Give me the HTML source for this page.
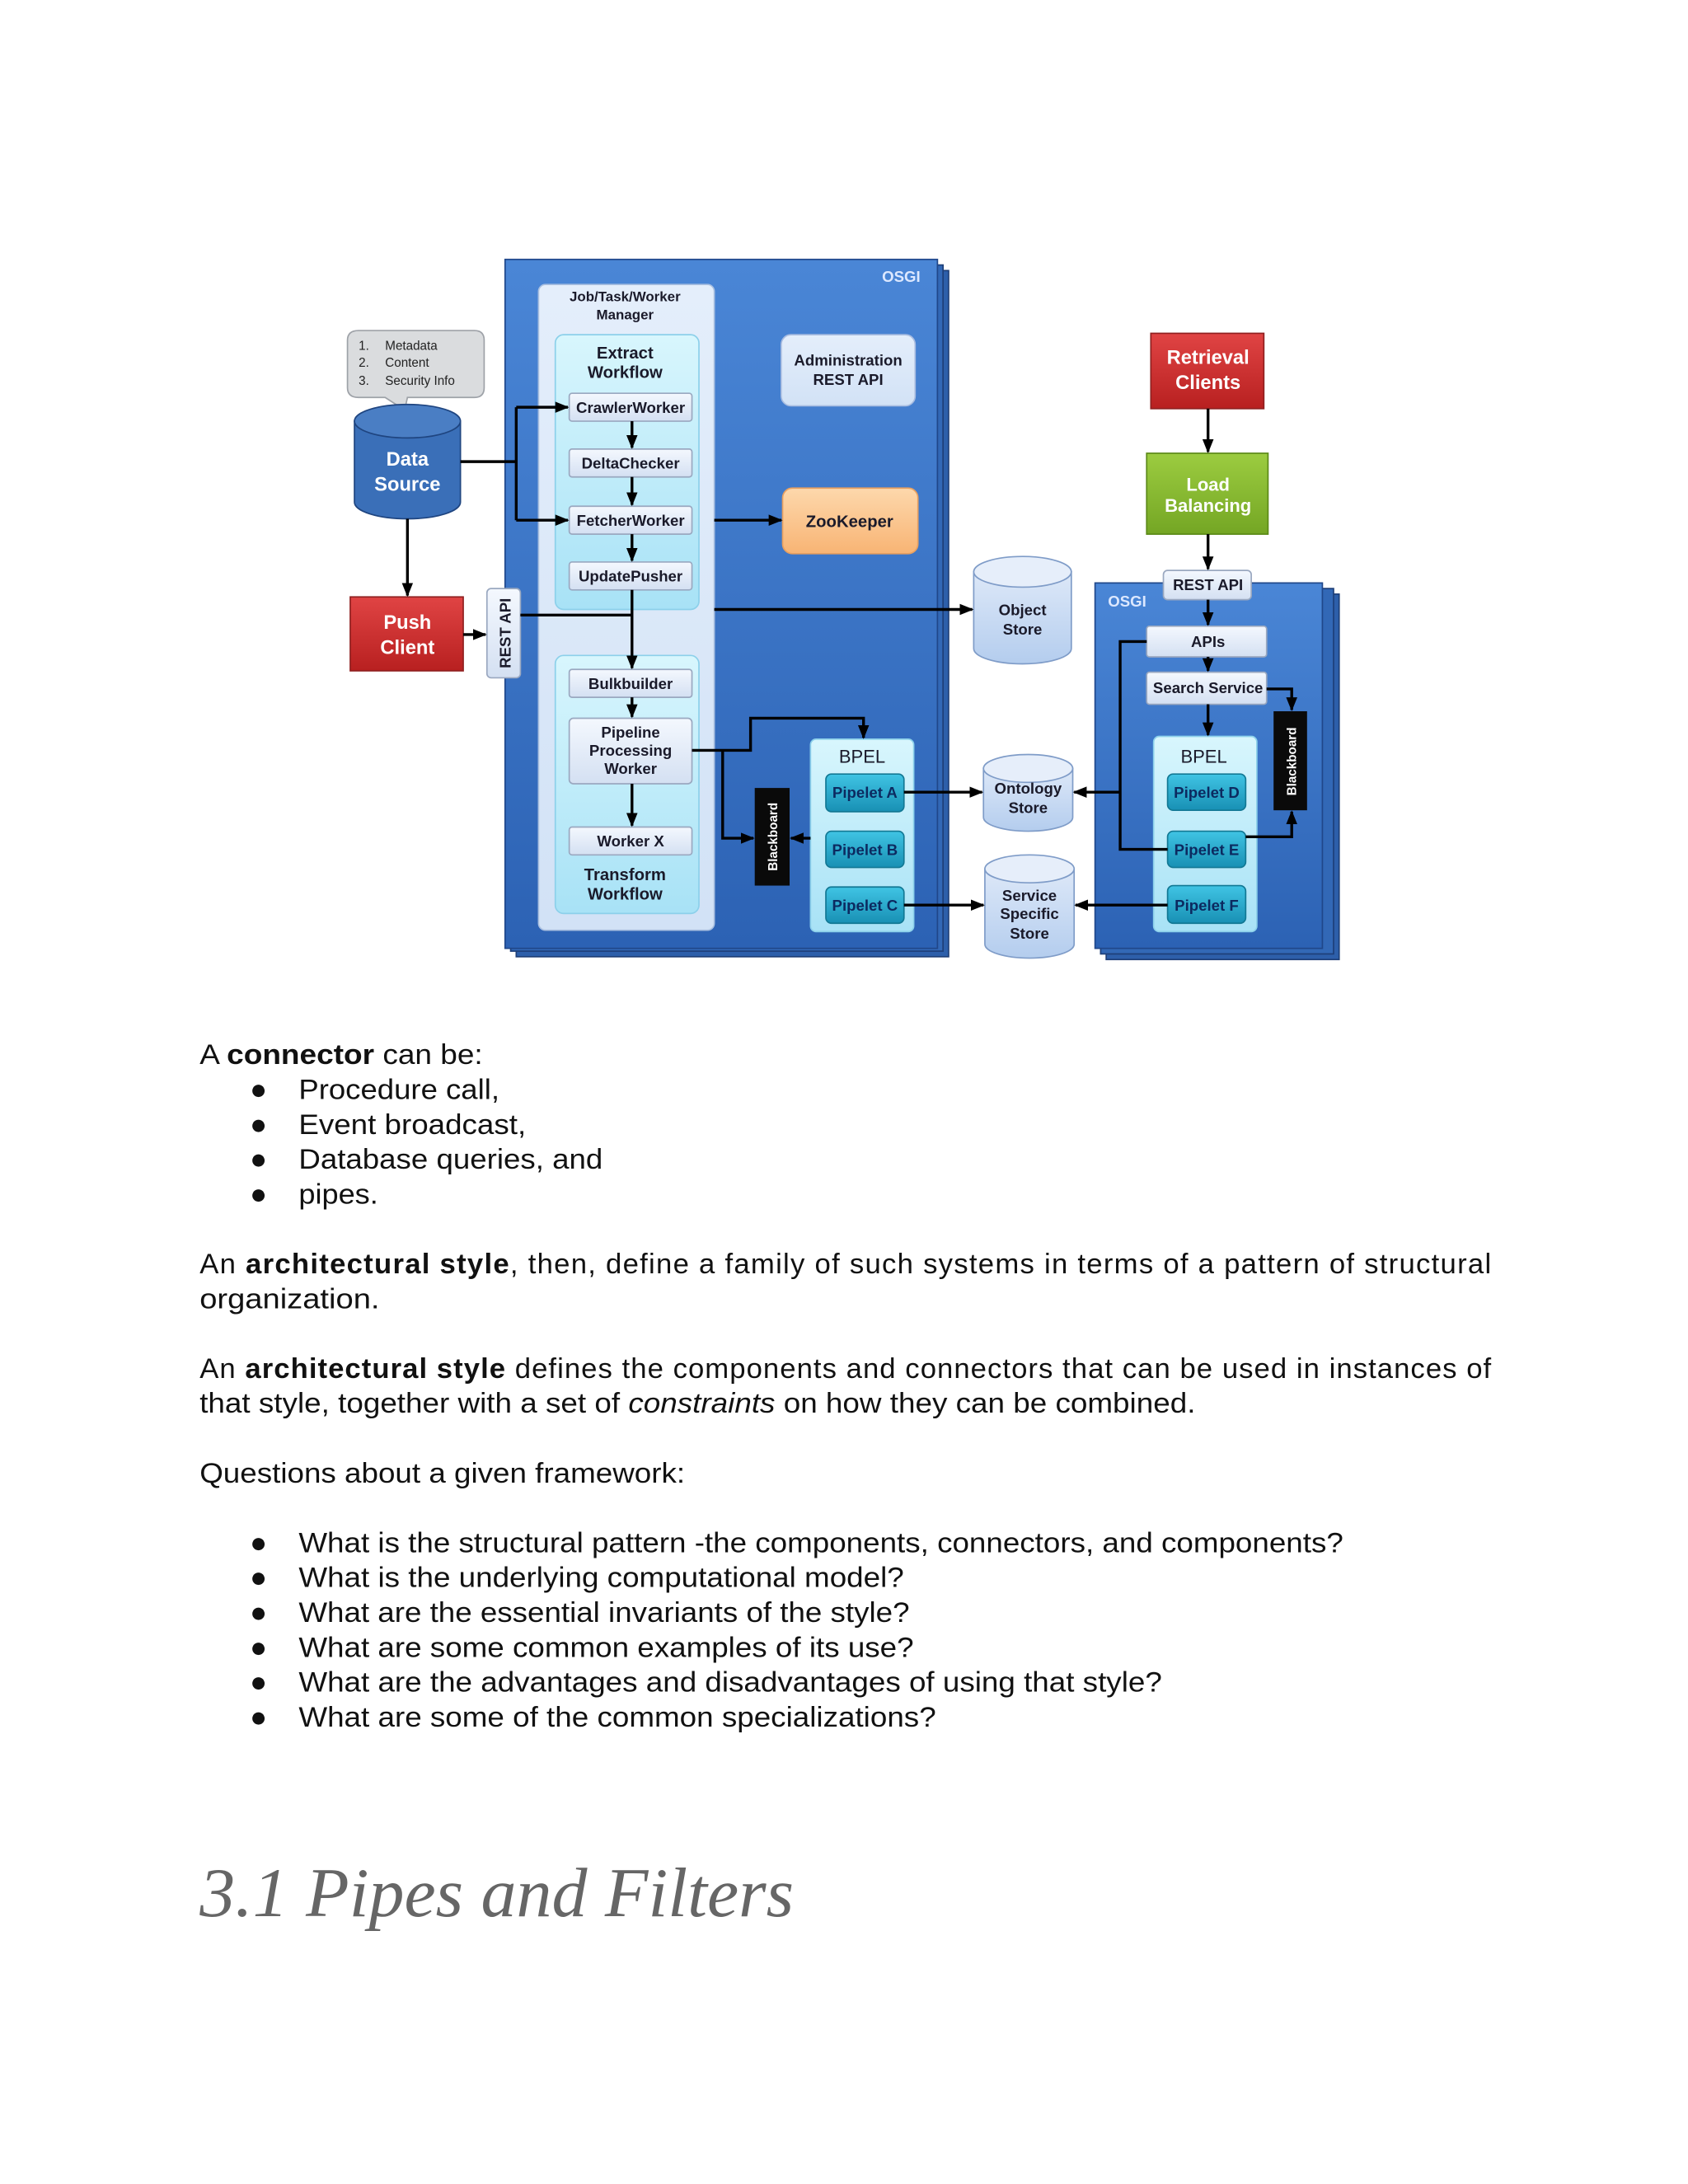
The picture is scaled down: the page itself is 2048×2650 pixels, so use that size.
<!DOCTYPE html>
<html><head><meta charset="utf-8"><style>
html,body{margin:0;padding:0;background:#fff}
svg{display:block}
.d{font-family:"Liberation Sans",sans-serif;font-weight:bold;font-size:11px;fill:#1a1a2a;text-anchor:middle}
.w{fill:#fff}
.t{font-family:"Liberation Sans",sans-serif;font-size:20.5px;fill:#111}
</style></head><body>
<svg width="2048" height="2650" viewBox="0 0 1210 1566" xmlns="http://www.w3.org/2000/svg">
<defs>
<linearGradient id="osgi" x1="0" y1="0" x2="0" y2="1"><stop offset="0" stop-color="#4a86d6"/><stop offset="1" stop-color="#2c62b4"/></linearGradient>
<linearGradient id="pan" x1="0" y1="0" x2="0" y2="1"><stop offset="0" stop-color="#e4eefb"/><stop offset="1" stop-color="#d2e2f6"/></linearGradient>
<linearGradient id="cy" x1="0" y1="0" x2="0" y2="1"><stop offset="0" stop-color="#d8f6fd"/><stop offset="1" stop-color="#a8e2f6"/></linearGradient>
<linearGradient id="wk" x1="0" y1="0" x2="0" y2="1"><stop offset="0" stop-color="#f4f8fe"/><stop offset="1" stop-color="#d4e0f2"/></linearGradient>
<linearGradient id="pl" x1="0" y1="0" x2="0" y2="1"><stop offset="0" stop-color="#40c4e4"/><stop offset="1" stop-color="#1890b4"/></linearGradient>
<linearGradient id="red" x1="0" y1="0" x2="0" y2="1"><stop offset="0" stop-color="#e04444"/><stop offset="1" stop-color="#b82020"/></linearGradient>
<linearGradient id="grn" x1="0" y1="0" x2="0" y2="1"><stop offset="0" stop-color="#9ccc40"/><stop offset="1" stop-color="#74a624"/></linearGradient>
<linearGradient id="org" x1="0" y1="0" x2="0" y2="1"><stop offset="0" stop-color="#fdd8ac"/><stop offset="1" stop-color="#f8b474"/></linearGradient>
<linearGradient id="db" x1="0" y1="0" x2="0" y2="1"><stop offset="0" stop-color="#dde8f8"/><stop offset="1" stop-color="#b4cdee"/></linearGradient>
<marker id="a" viewBox="0 0 10 10" refX="9" refY="5" markerWidth="5" markerHeight="5" orient="auto"><path d="M0,1 L10,5 L0,9z" fill="#000"/></marker>
</defs>

<!-- main OSGI stack -->
<rect x="370" y="194" width="310" height="492" fill="#2d5faa" stroke="#1e3f78"/>
<rect x="366" y="190" width="310" height="492" fill="#3268b6" stroke="#1e3f78"/>
<rect x="362" y="186" width="310" height="494" fill="url(#osgi)" stroke="#20478a"/>
<text x="646" y="202" class="d w" style="fill:#dce8ff">OSGI</text>

<rect x="386" y="204" width="126" height="463" rx="5" fill="url(#pan)" stroke="#aac0e0"/>
<text x="448" y="216" class="d" style="font-size:10px">Job/Task/Worker</text>
<text x="448" y="229" class="d" style="font-size:10px">Manager</text>
<rect x="398" y="240" width="103" height="197" rx="6" fill="url(#cy)" stroke="#8cd0ea"/>
<text x="448" y="257" class="d" style="font-size:12px">Extract</text>
<text x="448" y="271" class="d" style="font-size:12px">Workflow</text>
<rect x="398" y="470" width="103" height="185" rx="6" fill="url(#cy)" stroke="#8cd0ea"/>
<text x="448" y="631" class="d" style="font-size:12px">Transform</text>
<text x="448" y="645" class="d" style="font-size:12px">Workflow</text>

<g stroke="#9aa8c0" fill="url(#wk)">
<rect x="408" y="282" width="88" height="20" rx="2"/>
<rect x="408" y="322" width="88" height="20" rx="2"/>
<rect x="408" y="363" width="88" height="20" rx="2"/>
<rect x="408" y="403" width="88" height="20" rx="2"/>
<rect x="408" y="480" width="88" height="20" rx="2"/>
<rect x="408" y="515" width="88" height="47" rx="3"/>
<rect x="408" y="593" width="88" height="20" rx="2"/>
</g>
<text x="452" y="296" class="d">CrawlerWorker</text>
<text x="452" y="336" class="d">DeltaChecker</text>
<text x="452" y="377" class="d">FetcherWorker</text>
<text x="452" y="417" class="d">UpdatePusher</text>
<text x="452" y="494" class="d">Bulkbuilder</text>
<text x="452" y="529" class="d">Pipeline</text>
<text x="452" y="542" class="d">Processing</text>
<text x="452" y="555" class="d">Worker</text>
<text x="452" y="607" class="d">Worker X</text>

<rect x="560" y="240" width="96" height="51" rx="7" fill="url(#pan)" stroke="#a8bce0"/>
<text x="608" y="262" class="d">Administration</text>
<text x="608" y="276" class="d">REST API</text>
<rect x="561" y="350" width="97" height="47" rx="7" fill="url(#org)" stroke="#e8a060"/>
<text x="609" y="378" class="d" style="font-size:12px">ZooKeeper</text>

<rect x="581" y="530" width="74" height="138" rx="4" fill="url(#cy)" stroke="#8cd0ea"/>
<text x="618" y="547" class="d" style="font-size:13px;font-weight:normal">BPEL</text>
<g fill="url(#pl)" stroke="#127894">
<rect x="592" y="555" width="56" height="27" rx="4"/>
<rect x="592" y="596" width="56" height="26" rx="4"/>
<rect x="592" y="636" width="56" height="26" rx="4"/>
</g>
<text x="620" y="572" class="d" style="fill:#0c2a60">Pipelet A</text>
<text x="620" y="613" class="d" style="fill:#0c2a60">Pipelet B</text>
<text x="620" y="653" class="d" style="fill:#0c2a60">Pipelet C</text>
<rect x="541" y="565" width="25" height="70" fill="#0a0a0a"/>
<text transform="translate(557,600) rotate(-90)" class="d w" style="font-size:9px">Blackboard</text>

<!-- callout & data source -->
<path d="M257,237 H340 Q347,237 347,244 V278 Q347,285 340,285 H292 L290,294 L276,285 H257 Q249,285 249,278 V244 Q249,237 257,237z" fill="#dadcde" stroke="#9ea2a8"/>
<g style="font-family:'Liberation Sans',sans-serif;font-size:9px;fill:#222">
<text x="257" y="251">1.</text><text x="276" y="251">Metadata</text>
<text x="257" y="263">2.</text><text x="276" y="263">Content</text>
<text x="257" y="276">3.</text><text x="276" y="276">Security Info</text>
</g>
<path d="M254,302 V360 A38,12 0 0 0 330,360 V302z" fill="#3a6fb8" stroke="#1f4580"/>
<ellipse cx="292" cy="302" rx="38" ry="12" fill="#4a7ec4" stroke="#1f4580"/>
<text x="292" y="334" class="d w" style="font-size:14px">Data</text>
<text x="292" y="352" class="d w" style="font-size:14px">Source</text>

<rect x="251" y="428" width="81" height="53" fill="url(#red)" stroke="#902020"/>
<text x="292" y="451" class="d w" style="font-size:14px">Push</text>
<text x="292" y="469" class="d w" style="font-size:14px">Client</text>
<rect x="349" y="422" width="24" height="64" rx="3" fill="url(#wk)" stroke="#9aa8c0"/>
<text transform="translate(366,454) rotate(-90)" class="d">REST API</text>

<!-- stores -->
<g fill="url(#db)" stroke="#7f9cc8">
<path d="M698,410 V465 A35,11 0 0 0 768,465 V410z"/><ellipse cx="733" cy="410" rx="35" ry="11" fill="#e6eefa"/>
<path d="M705,551 V586 A32,10 0 0 0 769,586 V551z"/><ellipse cx="737" cy="551" rx="32" ry="10" fill="#e6eefa"/>
<path d="M706,623 V677 A32,10 0 0 0 770,677 V623z"/><ellipse cx="738" cy="623" rx="32" ry="10" fill="#e6eefa"/>
</g>
<text x="733" y="441" class="d">Object</text><text x="733" y="455" class="d">Store</text>
<text x="737" y="569" class="d">Ontology</text><text x="737" y="583" class="d">Store</text>
<text x="738" y="646" class="d">Service</text><text x="738" y="659" class="d">Specific</text><text x="738" y="673" class="d">Store</text>

<!-- right side -->
<rect x="825" y="239" width="81" height="54" fill="url(#red)" stroke="#902020"/>
<text x="866" y="261" class="d w" style="font-size:14px">Retrieval</text>
<text x="866" y="279" class="d w" style="font-size:14px">Clients</text>
<rect x="822" y="325" width="87" height="58" fill="url(#grn)" stroke="#5c8a18"/>
<text x="866" y="352" class="d w" style="font-size:13px">Load</text>
<text x="866" y="367" class="d w" style="font-size:13px">Balancing</text>

<rect x="793" y="426" width="167" height="262" fill="#2d5faa" stroke="#1e3f78"/>
<rect x="789" y="422" width="167" height="262" fill="#3268b6" stroke="#1e3f78"/>
<rect x="785" y="418" width="163" height="262" fill="url(#osgi)" stroke="#20478a"/>
<text x="808" y="435" class="d w" style="fill:#dce8ff">OSGI</text>
<rect x="834" y="409" width="63" height="21" rx="3" fill="url(#wk)" stroke="#9aa8c0"/>
<text x="866" y="423" class="d">REST API</text>
<rect x="822" y="449" width="86" height="22" rx="2" fill="url(#wk)" stroke="#9aa8c0"/>
<text x="866" y="464" class="d">APIs</text>
<rect x="822" y="482" width="86" height="23" rx="2" fill="url(#wk)" stroke="#9aa8c0"/>
<text x="866" y="497" class="d">Search Service</text>
<rect x="827" y="528" width="74" height="140" rx="4" fill="url(#cy)" stroke="#8cd0ea"/>
<text x="863" y="547" class="d" style="font-size:13px;font-weight:normal">BPEL</text>
<g fill="url(#pl)" stroke="#127894">
<rect x="837" y="555" width="56" height="26" rx="4"/>
<rect x="837" y="596" width="56" height="26" rx="4"/>
<rect x="837" y="635" width="56" height="27" rx="4"/>
</g>
<text x="865" y="572" class="d" style="fill:#0c2a60">Pipelet D</text>
<text x="865" y="613" class="d" style="fill:#0c2a60">Pipelet E</text>
<text x="865" y="653" class="d" style="fill:#0c2a60">Pipelet F</text>
<rect x="913" y="510" width="24" height="71" fill="#0a0a0a"/>
<text transform="translate(929,546) rotate(-90)" class="d w" style="font-size:9px">Blackboard</text>

<!-- connectors -->
<g stroke="#000" stroke-width="2" fill="none">
<path d="M330,331 H370"/>
<path d="M370,292 V373"/>
<path d="M370,292 H407" marker-end="url(#a)"/>
<path d="M370,373 H407" marker-end="url(#a)"/>
<path d="M292,372 V427" marker-end="url(#a)"/>
<path d="M332,455 H348" marker-end="url(#a)"/>
<path d="M373,441 H453"/>
<path d="M453,302 V321" marker-end="url(#a)"/>
<path d="M453,342 V362" marker-end="url(#a)"/>
<path d="M453,383 V402" marker-end="url(#a)"/>
<path d="M453,423 V479" marker-end="url(#a)"/>
<path d="M453,500 V514" marker-end="url(#a)"/>
<path d="M453,562 V592" marker-end="url(#a)"/>
<path d="M512,373 H560" marker-end="url(#a)"/>
<path d="M512,437 H697" marker-end="url(#a)"/>
<path d="M496,538 H538 V515 H619 V529" marker-end="url(#a)"/>
<path d="M518,538 V601 H540" marker-end="url(#a)"/>
<path d="M581,601 H567" marker-end="url(#a)"/>
<path d="M648,568 H704" marker-end="url(#a)"/>
<path d="M648,649 H705" marker-end="url(#a)"/>
<path d="M866,293 V324" marker-end="url(#a)"/>
<path d="M866,383 V408" marker-end="url(#a)"/>
<path d="M866,430 V448" marker-end="url(#a)"/>
<path d="M866,471 V481" marker-end="url(#a)"/>
<path d="M866,505 V527" marker-end="url(#a)"/>
<path d="M822,460 H803 V609 H837"/>
<path d="M803,568 H770" marker-end="url(#a)"/>
<path d="M837,649 H771" marker-end="url(#a)"/>
<path d="M908,494 H926 V509" marker-end="url(#a)"/>
<path d="M893,600 H926 V582" marker-end="url(#a)"/>
</g>

<!-- text -->
<g class="t">
<text x="143" y="763" class="t" textLength="203" lengthAdjust="spacingAndGlyphs">A <tspan font-weight="bold">connector</tspan> can be:</text>
<text x="179" y="788" class="t">●</text><text x="214" y="788" class="t" textLength="144" lengthAdjust="spacingAndGlyphs">Procedure call,</text>
<text x="179" y="813" class="t">●</text><text x="214" y="813" class="t" textLength="163" lengthAdjust="spacingAndGlyphs">Event broadcast,</text>
<text x="179" y="838" class="t">●</text><text x="214" y="838" class="t" textLength="218" lengthAdjust="spacingAndGlyphs">Database queries, and</text>
<text x="179" y="863" class="t">●</text><text x="214" y="863" class="t" textLength="57" lengthAdjust="spacingAndGlyphs">pipes.</text>
<text x="143" y="913" class="t" textLength="926" lengthAdjust="spacing">An <tspan font-weight="bold">architectural style</tspan>, then, define a family of such systems in terms of a pattern of structural</text>
<text x="143" y="938" class="t" textLength="129" lengthAdjust="spacingAndGlyphs">organization.</text>
<text x="143" y="988" class="t" textLength="926" lengthAdjust="spacing">An <tspan font-weight="bold">architectural style</tspan> defines the components and connectors that can be used in instances of</text>
<text x="143" y="1013" class="t" textLength="714" lengthAdjust="spacingAndGlyphs">that style, together with a set of <tspan font-style="italic">constraints</tspan> on how they can be combined.</text>
<text x="143" y="1063" class="t" textLength="348" lengthAdjust="spacingAndGlyphs">Questions about a given framework:</text>
<text x="179" y="1113" class="t">●</text><text x="214" y="1113" class="t" textLength="749" lengthAdjust="spacingAndGlyphs">What is the structural pattern -the components, connectors, and components?</text>
<text x="179" y="1138" class="t">●</text><text x="214" y="1138" class="t" textLength="434" lengthAdjust="spacingAndGlyphs">What is the underlying computational model?</text>
<text x="179" y="1163" class="t">●</text><text x="214" y="1163" class="t" textLength="438" lengthAdjust="spacingAndGlyphs">What are the essential invariants of the style?</text>
<text x="179" y="1188" class="t">●</text><text x="214" y="1188" class="t" textLength="441" lengthAdjust="spacingAndGlyphs">What are some common examples of its use?</text>
<text x="179" y="1213" class="t">●</text><text x="214" y="1213" class="t" textLength="619" lengthAdjust="spacingAndGlyphs">What are the advantages and disadvantages of using that style?</text>
<text x="179" y="1238" class="t">●</text><text x="214" y="1238" class="t" textLength="457" lengthAdjust="spacingAndGlyphs">What are some of the common specializations?</text>
</g>
<text x="143" y="1374" style="font-family:'Liberation Serif',serif;font-style:italic;font-size:50px;fill:#666" textLength="426" lengthAdjust="spacingAndGlyphs">3.1 Pipes and Filters</text>
</svg>
</body></html>
